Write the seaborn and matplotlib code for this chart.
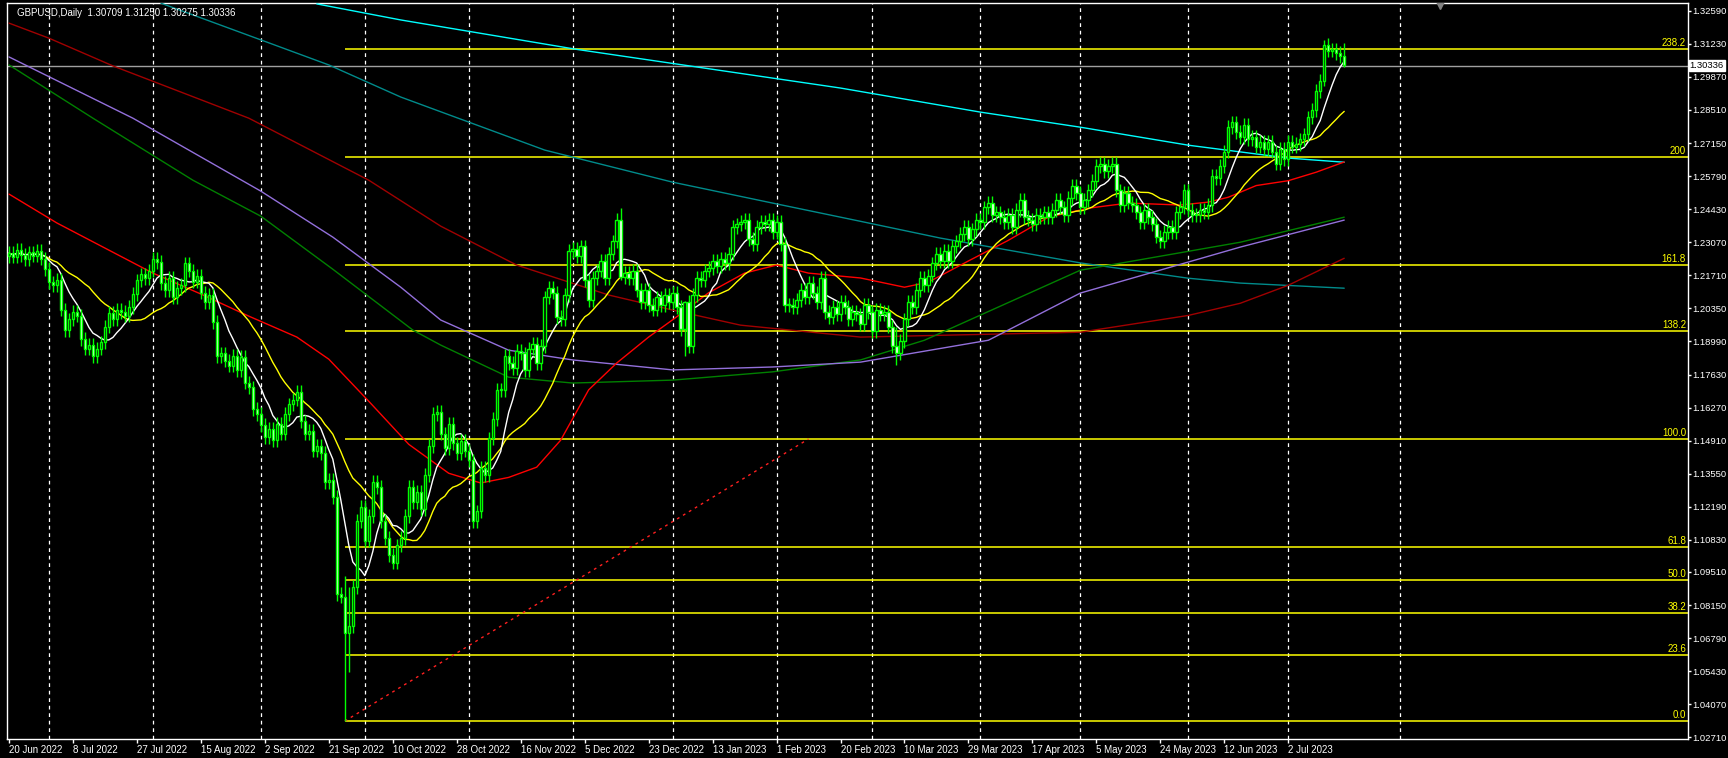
import numpy as np
import pandas as pd
import matplotlib
matplotlib.use('Agg')
import matplotlib.pyplot as plt
import seaborn as sns

# daily closes, bar 0 = 20 Jun 2022 (broker with Sunday bars)
closes = [
    1.2262, 1.2248, 1.2275, 1.2255, 1.2238, 1.2265, 1.2252, 1.2270, 1.2240, 1.2198,
    1.2142, 1.2130, 1.2152, 1.2030, 1.1945, 1.1990, 1.2020, 1.2005, 1.1910, 1.1870,
    1.1885, 1.1840, 1.1870, 1.1895, 1.1960, 1.2015, 1.1990, 1.2030, 1.2020, 1.2005,
    1.2040, 1.2095, 1.2150, 1.2175, 1.2160, 1.2190, 1.2240, 1.2225, 1.2140, 1.2110,
    1.2160, 1.2080, 1.2120, 1.2130, 1.2220, 1.2190, 1.2145, 1.2170, 1.2100, 1.2060,
    1.2090, 1.1980, 1.1840, 1.1850, 1.1820, 1.1800, 1.1840, 1.1780, 1.1835, 1.1730,
    1.1710, 1.1620, 1.1600, 1.1555, 1.1505, 1.1540, 1.1495, 1.1560, 1.1520, 1.1600,
    1.1640, 1.1660, 1.1690, 1.1570, 1.1520, 1.1530, 1.1450, 1.1470, 1.1440, 1.1320,
    1.1330, 1.1260, 1.0860, 1.0850, 1.0700, 1.0730, 1.0890, 1.1160, 1.1220, 1.1080,
    1.1180, 1.1320, 1.1300, 1.1160, 1.1090, 1.1020, 1.0990, 1.1060, 1.1090, 1.1180,
    1.1300, 1.1240, 1.1280, 1.1210, 1.1350, 1.1470, 1.1600, 1.1610, 1.1520, 1.1460,
    1.1560, 1.1480, 1.1440, 1.1490, 1.1450, 1.1410, 1.1160, 1.1200, 1.1380, 1.1350,
    1.1500, 1.1580, 1.1700, 1.1700, 1.1840, 1.1810, 1.1790, 1.1860, 1.1850, 1.1780,
    1.1870, 1.1890, 1.1810, 1.1880, 1.2080, 1.2120, 1.2100, 1.2000, 1.1990, 1.2090,
    1.2270, 1.2280, 1.2250, 1.2290, 1.2150, 1.2070, 1.2160, 1.2190, 1.2230, 1.2160,
    1.2260, 1.2310, 1.2400, 1.2165, 1.2180, 1.2160, 1.2190, 1.2110, 1.2060, 1.2110,
    1.2050, 1.2030, 1.2080, 1.2050, 1.2090, 1.2060, 1.2100, 1.2040, 1.1950, 1.2060,
    1.1880, 1.2090, 1.2160, 1.2150, 1.2190, 1.2200, 1.2230, 1.2210, 1.2240, 1.2220,
    1.2260, 1.2370, 1.2380, 1.2390, 1.2400, 1.2320, 1.2300, 1.2370, 1.2390, 1.2380,
    1.2400, 1.2350, 1.2390, 1.2300, 1.2050, 1.2050, 1.2040, 1.2070, 1.2110, 1.2080,
    1.2140, 1.2100, 1.2060, 1.2160, 1.2020, 1.2000, 1.2040, 1.2010, 1.2060, 1.2040,
    1.1990, 1.2020, 1.2010, 1.1970, 1.2050, 1.2020, 1.1940, 1.2030, 1.2010, 1.2020,
    1.1960, 1.1880, 1.1850, 1.1900, 1.1990, 1.2060, 1.2040, 1.2110, 1.2160, 1.2130,
    1.2170, 1.2220, 1.2260, 1.2230, 1.2270, 1.2230, 1.2290, 1.2310, 1.2340, 1.2370,
    1.2320, 1.2360, 1.2400, 1.2390, 1.2450, 1.2470, 1.2420, 1.2430, 1.2410, 1.2390,
    1.2420, 1.2370, 1.2440, 1.2480, 1.2410, 1.2400, 1.2380, 1.2420, 1.2410, 1.2430,
    1.2410, 1.2440, 1.2480, 1.2450, 1.2420, 1.2490, 1.2540, 1.2510, 1.2450, 1.2480,
    1.2520, 1.2560, 1.2620, 1.2630, 1.2600, 1.2620, 1.2630, 1.2520, 1.2460, 1.2510,
    1.2470, 1.2460, 1.2430, 1.2390, 1.2440, 1.2410, 1.2380, 1.2330, 1.2310, 1.2350,
    1.2370, 1.2350, 1.2430, 1.2450, 1.2520, 1.2440, 1.2420, 1.2420, 1.2440, 1.2430,
    1.2460, 1.2580, 1.2570, 1.2620, 1.2680, 1.2780, 1.2800, 1.2760, 1.2740, 1.2790,
    1.2730, 1.2740, 1.2700, 1.2720, 1.2690, 1.2720, 1.2680, 1.2630, 1.2690, 1.2650,
    1.2720, 1.2700, 1.2710, 1.2730, 1.2750, 1.2820, 1.2850, 1.2930, 1.2970, 1.3120,
    1.3095, 1.3100, 1.3085, 1.3071, 1.3034,
]
first_open = 1.2250
# notable wicks: bar -> (high, low)
extreme_wicks = {
    84: (1.0933, 1.0338), 85: (1.0890, 1.0540), 153: (1.2446, 1.2150),
    169: (1.2065, 1.1841), 222: (1.1960, 1.1803), 329: (1.3140, 1.2950),
    334: (1.3125, 1.30275),
}

# moving average waypoints (bar, price)
ma_red = [(0, 1.2505), (12, 1.2386), (24, 1.2283), (36, 1.2180), (48, 1.2094), (60, 1.2003),
          (72, 1.1917), (80, 1.1826), (90, 1.1653), (100, 1.1476), (110, 1.1357), (118, 1.1317),
          (125, 1.1340), (132, 1.1382), (138, 1.1493), (145, 1.1700), (152, 1.1810), (160, 1.1917),
          (167, 1.2000), (175, 1.2099), (184, 1.2180), (192, 1.2213), (200, 1.2180), (213, 1.2160),
          (224, 1.2122), (230, 1.2143), (240, 1.2230), (250, 1.2315), (260, 1.2410), (270, 1.2447),
          (280, 1.2468), (293, 1.2460), (300, 1.2472), (305, 1.2492), (312, 1.2540), (320, 1.2560),
          (327, 1.2595), (334, 1.2637)]
ma_cyan = [(77, 1.3287), (98, 1.3221), (142, 1.3100), (208, 1.2941), (243, 1.2842),
           (268, 1.2780), (295, 1.2706), (320, 1.2653), (334, 1.2636)]
ma_teal = [(38, 1.3290), (63, 1.3139), (80, 1.3036), (98, 1.2904), (134, 1.2686), (166, 1.2554),
           (191, 1.2468), (213, 1.2393), (233, 1.2324), (268, 1.2222), (295, 1.2159),
           (308, 1.2139), (334, 1.2118)]
ma_darkred = [(0, 1.3208), (10, 1.3146), (26, 1.3032), (60, 1.2817), (90, 1.2562), (108, 1.2373),
              (127, 1.2213), (150, 1.2090), (166, 1.2028), (183, 1.1966), (213, 1.1917),
              (268, 1.1937), (295, 1.2006), (308, 1.2056), (320, 1.2130), (334, 1.2241)]
ma_green = [(0, 1.3036), (21, 1.2817), (46, 1.2562), (63, 1.2414), (81, 1.2196), (101, 1.1946),
            (108, 1.1884), (125, 1.1752), (141, 1.1728), (166, 1.1740), (191, 1.1774),
            (213, 1.1823), (229, 1.1904), (268, 1.2192), (308, 1.2307), (334, 1.2410)]
ma_purple = [(0, 1.3069), (31, 1.2817), (63, 1.2517), (81, 1.2328), (98, 1.2122), (108, 1.1987),
             (125, 1.1863), (141, 1.1823), (166, 1.1782), (191, 1.1794), (213, 1.1814),
             (245, 1.1904), (268, 1.2098), (308, 1.2287), (334, 1.2398)]

fib_levels = [0.0, 23.6, 38.2, 50.0, 61.8, 100.0, 138.2, 161.8, 200.0, 238.2]
fib_low, fib_high = 1.0338, 1.1498
fib_start_bar, fib_end_bar = 84, 200

tick_labels = ['20 Jun 2022', '8 Jul 2022', '27 Jul 2022', '15 Aug 2022', '2 Sep 2022',
               '21 Sep 2022', '10 Oct 2022', '28 Oct 2022', '16 Nov 2022', '5 Dec 2022',
               '23 Dec 2022', '13 Jan 2023', '1 Feb 2023', '20 Feb 2023', '10 Mar 2023',
               '29 Mar 2023', '17 Apr 2023', '5 May 2023', '24 May 2023', '12 Jun 2023',
               '2 Jul 2023']
month_bars = [10, 36, 63, 89, 115, 141, 166, 192, 216, 243, 268, 295, 320, 348]
price_ticks = [1.32590, 1.31230, 1.29870, 1.28510, 1.27150, 1.25790, 1.24430, 1.23070,
               1.21710, 1.20350, 1.18990, 1.17630, 1.16270, 1.14910, 1.13550, 1.12190,
               1.10830, 1.09510, 1.08150, 1.06790, 1.05430, 1.04070, 1.02710]
last_price = 1.30336

sns.set_style('dark')
plt.rcParams['font.family'] = ['Liberation Sans', 'DejaVu Sans']

df = pd.DataFrame({'close': closes})
df['bar'] = np.arange(len(df))
df['open'] = df['close'].shift(1).fillna(first_open)
wick = 0.0028
df['high'] = df[['open', 'close']].max(axis=1) + wick
df['low'] = df[['open', 'close']].min(axis=1) - wick
for b, (h, l) in extreme_wicks.items():
    df.loc[b, 'high'] = h
    df.loc[b, 'low'] = l
df['ma_fast'] = df['close'].rolling(8, min_periods=1).mean()
df['ma_mid'] = df['close'].rolling(21, min_periods=1).mean()

fig = plt.figure(figsize=(17.28, 7.58), dpi=100, facecolor='black')
ax = fig.add_axes([7 / 1728, 19 / 758, 1681 / 1728, 736 / 758])
ax.set_facecolor('black')
ax.set_xlim(-0.5, 420)
ax.set_ylim(1.02643, 1.32907)

for b in month_bars:
    ax.axvline(b, color='white', ls=(0, (3, 3)), lw=0.9, zorder=1)

for lvl in fib_levels:
    p = fib_low + (fib_high - fib_low) * lvl / 100
    ax.hlines(p, fib_start_bar, 420, color='#ffff00', lw=1.1, zorder=2)
    ax.text(419.5, p + 0.0004, f'{lvl:.1f}'.replace('200.0', '200'), color='#ffff00',
            ha='right', va='bottom', fontsize=7)
ax.plot([fib_start_bar, fib_end_bar], [fib_low, fib_high], color='#ff2020', ls=(0, (2, 3)),
        lw=1, zorder=2)

ax.axhline(last_price, color='#a0a0a0', lw=1, zorder=2)

for pts, col in [(ma_cyan, '#00ffff'), (ma_teal, '#008b8b'), (ma_darkred, '#a00000'),
                 (ma_green, '#008000'), (ma_purple, '#9370db'), (ma_red, '#ff0000')]:
    d = pd.DataFrame(pts, columns=['bar', 'price'])
    sns.lineplot(data=d, x='bar', y='price', color=col, lw=1, ax=ax, zorder=3)
sns.lineplot(data=df, x='bar', y='ma_mid', color='#ffff00', lw=1, ax=ax, zorder=3)
sns.lineplot(data=df, x='bar', y='ma_fast', color='white', lw=1, ax=ax, zorder=3)

ax.vlines(df['bar'], df['low'], df['high'], color='#00ff00', lw=1, zorder=4)
bull = df['close'] >= df['open']
bottoms = df[['open', 'close']].min(axis=1)
heights = (df['close'] - df['open']).abs().clip(lower=0.0004)
ax.bar(df['bar'][bull], heights[bull], bottom=bottoms[bull], width=0.6,
       color='black', edgecolor='#00ff00', lw=1, zorder=5)
ax.bar(df['bar'][~bull], heights[~bull], bottom=bottoms[~bull], width=0.6,
       color='white', edgecolor='#00ff00', lw=1, zorder=5)

ax.plot([358], [1.3282], marker='v', color='#808080', ms=6, zorder=6)

ax.set_xlabel('')
ax.set_ylabel('')
ax.set_xticks(np.arange(len(tick_labels)) * 16)
ax.set_xticklabels(tick_labels, ha='left', color='white', fontsize=7)
ax.yaxis.tick_right()
ax.set_yticks(price_ticks)
ax.set_yticklabels([f'{t:.5f}' for t in price_ticks], color='white', fontsize=6.8)
ax.tick_params(axis='both', colors='white', length=2, width=1, pad=1, direction='out',
               bottom=True, right=True, left=False)
ax.tick_params(axis='x', length=3)
for s in ax.spines.values():
    s.set_color('white')
    s.set_linewidth(1)
ax.grid(False)

ax.text(2, 1.3250, 'GBPUSD,Daily  1.30709 1.31250 1.30275 1.30336', color='white',
        fontsize=7, va='center', ha='left')
ax.text(1.001, last_price, '1.30336', transform=ax.get_yaxis_transform(), color='black',
        fontsize=6.8, va='center', ha='left',
        bbox=dict(boxstyle='square,pad=0.1', fc='white', ec='white'))

fig.savefig('out.png', dpi=100, facecolor='black')
